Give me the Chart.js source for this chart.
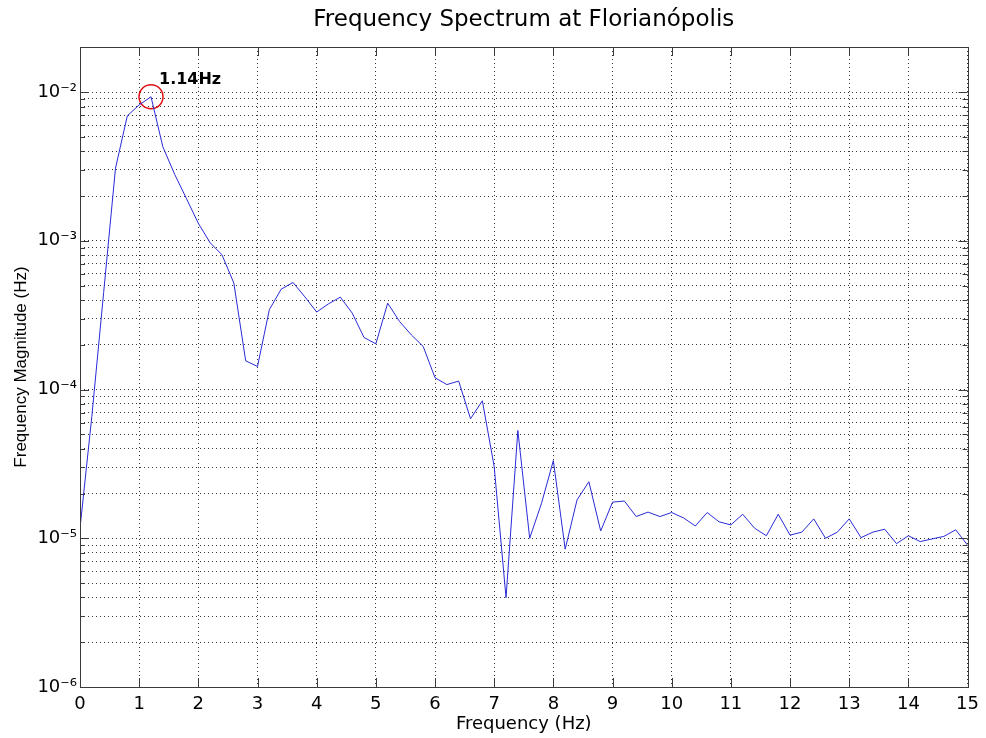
<!DOCTYPE html>
<html>
<head>
<meta charset="utf-8">
<script src="https://cdn.jsdelivr.net/npm/chart.js@4.4.1/dist/chart.umd.min.js"></script>
<style>
html,body{margin:0;padding:0;background:#fff;}
#wrap{width:986px;height:738px;}
canvas{display:block;}
</style>
</head>
<body>
<div id="wrap"><canvas id="c" width="986" height="738"></canvas></div>
<script>
// ---- data ----
const frequencies = [0, 0.2, 0.4, 0.6, 0.8, 1.0, 1.2, 1.4, 1.6, 1.8, 2.0, 2.2, 2.4, 2.6, 2.8, 3.0, 3.2, 3.4, 3.6, 3.8, 4.0, 4.2, 4.4, 4.6, 4.8, 5.0, 5.2, 5.4, 5.6, 5.8, 6.0, 6.2, 6.4, 6.6, 6.8, 7.0, 7.2, 7.4, 7.6, 7.8, 8.0, 8.2, 8.4, 8.6, 8.8, 9.0, 9.2, 9.4, 9.6, 9.8, 10.0, 10.2, 10.4, 10.6, 10.8, 11.0, 11.2, 11.4, 11.6, 11.8, 12.0, 12.2, 12.4, 12.6, 12.8, 13.0, 13.2, 13.4, 13.6, 13.8, 14.0, 14.2, 14.4, 14.6, 14.8, 15.0];
const magnitudes = [1.17e-5, 6.6e-5, 4.5e-4, 3.08e-3, 6.93e-3, 8.2e-3, 9.3e-3, 4.29e-3, 2.8e-3, 1.92e-3,
  1.31e-3, 9.7e-4, 8.05e-4, 5.2e-4, 1.56e-4, 1.43e-4, 3.44e-4, 4.73e-4, 5.25e-4, 4.2e-4,
  3.32e-4, 3.77e-4, 4.18e-4, 3.27e-4, 2.24e-4, 2.03e-4, 3.81e-4, 2.87e-4, 2.33e-4, 1.95e-4,
  1.2e-4, 1.08e-4, 1.14e-4, 6.36e-5, 8.4e-5, 3.03e-5, 3.99e-6, 5.3e-5, 1.0e-5, 1.72e-5,
  3.33e-5, 8.45e-6, 1.81e-5, 2.4e-5, 1.12e-5, 1.75e-5, 1.78e-5, 1.4e-5, 1.5e-5, 1.4e-5,
  1.49e-5, 1.37e-5, 1.21e-5, 1.49e-5, 1.29e-5, 1.23e-5, 1.45e-5, 1.17e-5, 1.04e-5, 1.45e-5,
  1.05e-5, 1.1e-5, 1.35e-5, 1.0e-5, 1.1e-5, 1.35e-5, 1.01e-5, 1.1e-5, 1.15e-5, 9.2e-6,
  1.04e-5, 9.5e-6, 9.9e-6, 1.03e-5, 1.14e-5, 9.0e-6];
const peakIndex = 6;
const peakLabel = '1.14Hz';
const xTickValues = [0, 1, 2, 3, 4, 5, 6, 7, 8, 9, 10, 11, 12, 13, 14, 15];
const yDecades = [1e-6, 1e-5, 1e-4, 1e-3, 1e-2];
const yDecadeLabels = ['10\u207B\u2076', '10\u207B\u2075', '10\u207B\u2074', '10\u207B\u00B3', '10\u207B\u00B2'];
const yMinorMantissas = [1, 2, 3, 4, 5, 6, 7, 8, 9];
const yMin = 1e-6, yMax = 0.0201;
const titleText = 'Frequency Spectrum at Florian\u00F3polis';
const xTitle = 'Frequency (Hz)';
const yTitle = 'Frequency Magnitude (Hz)';

// ---- chart ----
Chart.defaults.font.family = "'DejaVu Sans', sans-serif";
Chart.defaults.color = '#000';

const yTickValues = [];
yDecades.forEach(d => yMinorMantissas.forEach(m => { const v = +(m * d).toPrecision(3); if (v <= yMax) yTickValues.push(v); }));
yTickValues.push(yMax);

function isDecade(v) {
  return yDecades.findIndex(d => Math.abs(v - d) / d < 1e-6);
}

const GRID_COLOR = 'rgba(0,0,0,0.8)';
const AXIS_COLOR = '#3a3a3a';

const matlabAxes = {
  id: 'matlabAxes',
  afterDatasetsDraw(chart) {
    const {ctx, chartArea: a, scales: {x, y}} = chart;
    ctx.save();
    ctx.strokeStyle = AXIS_COLOR;
    ctx.lineWidth = 1;
    ctx.setLineDash([]);
    ctx.beginPath();
    xTickValues.forEach(v => {
      const px = Math.round(x.getPixelForValue(v)) + 0.5;
      ctx.moveTo(px, a.bottom); ctx.lineTo(px, a.bottom - 9);
      ctx.moveTo(px, a.top); ctx.lineTo(px, a.top + 9);
    });
    yTickValues.forEach(v => {
      if (v >= yMax) return;
      const len = isDecade(v) >= 0 ? 9 : 5;
      const py = Math.round(y.getPixelForValue(v)) + 0.5;
      ctx.moveTo(a.left, py); ctx.lineTo(a.left + len, py);
      ctx.moveTo(a.right, py); ctx.lineTo(a.right - len, py);
    });
    ctx.stroke();
    ctx.strokeRect(Math.round(a.left) + 0.5, Math.round(a.top) + 0.5, Math.round(a.right - a.left), Math.round(a.bottom - a.top));
    // peak annotation text
    const px = x.getPixelForValue(frequencies[peakIndex]);
    const py = y.getPixelForValue(magnitudes[peakIndex]);
    ctx.fillStyle = '#000';
    ctx.font = "bold 16px 'DejaVu Sans', sans-serif";
    ctx.textAlign = 'left';
    ctx.textBaseline = 'middle';
    ctx.fillText(peakLabel, px + 8, py - 17);
    // title centred over the plot area
    ctx.font = "23px 'DejaVu Sans', sans-serif";
    ctx.textAlign = 'center';
    ctx.fillText(titleText, (a.left + a.right) / 2, 20);
    ctx.restore();
  }
};

new Chart(document.getElementById('c'), {
  type: 'line',
  data: {
    datasets: [{
      label: 'spectrum',
      data: frequencies.map((f, i) => ({x: f, y: magnitudes[i]})),
      borderColor: '#2a2ad6',
      borderWidth: 1,
      pointRadius: 0,
      tension: 0,
      fill: false
    }, {
      label: 'peak',
      data: [{x: frequencies[peakIndex], y: magnitudes[peakIndex]}],
      showLine: false,
      pointRadius: 12,
      pointBorderColor: '#e01010',
      pointBackgroundColor: 'rgba(0,0,0,0)',
      pointBorderWidth: 1.5
    }]
  },
  options: {
    responsive: false,
    animation: false,
    devicePixelRatio: 1,
    layout: {padding: {left: 0, right: 14, top: 47, bottom: 0}},
    plugins: {
      legend: {display: false},
      tooltip: {enabled: false},
      title: {display: false}
    },
    scales: {
      x: {
        type: 'linear',
        min: 0, max: 15,
        afterBuildTicks: s => { s.ticks = xTickValues.map(v => ({value: v})); },
        afterFit: s => { s.height = 51; },
        ticks: {font: {size: 18}, padding: 7, maxRotation: 0, autoSkip: false, color: '#000'},
        grid: {color: GRID_COLOR, lineWidth: 1, drawTicks: false},
        border: {display: false, dash: [1, 3]},
        title: {display: true, text: xTitle, font: {size: 18}, padding: {top: 0, bottom: 3}, color: '#000'}
      },
      y: {
        type: 'logarithmic',
        min: yMin, max: yMax,
        afterBuildTicks: s => { s.ticks = yTickValues.map(v => ({value: v})); },
        afterFit: s => { s.width = 80; },
        ticks: {
          font: {size: 18}, padding: 3, autoSkip: false, color: '#000',
          callback: v => { const k = isDecade(v); return k >= 0 ? yDecadeLabels[k] : ''; }
        },
        grid: {color: GRID_COLOR, lineWidth: 1, drawTicks: false},
        border: {display: false, dash: [1, 3]},
        title: {display: true, text: yTitle, font: {size: 17, family: "'Liberation Sans', Arial, sans-serif"}, padding: {top: 11, bottom: 0}, color: '#000'}
      }
    }
  },
  plugins: [matlabAxes]
});
</script>
</body>
</html>
